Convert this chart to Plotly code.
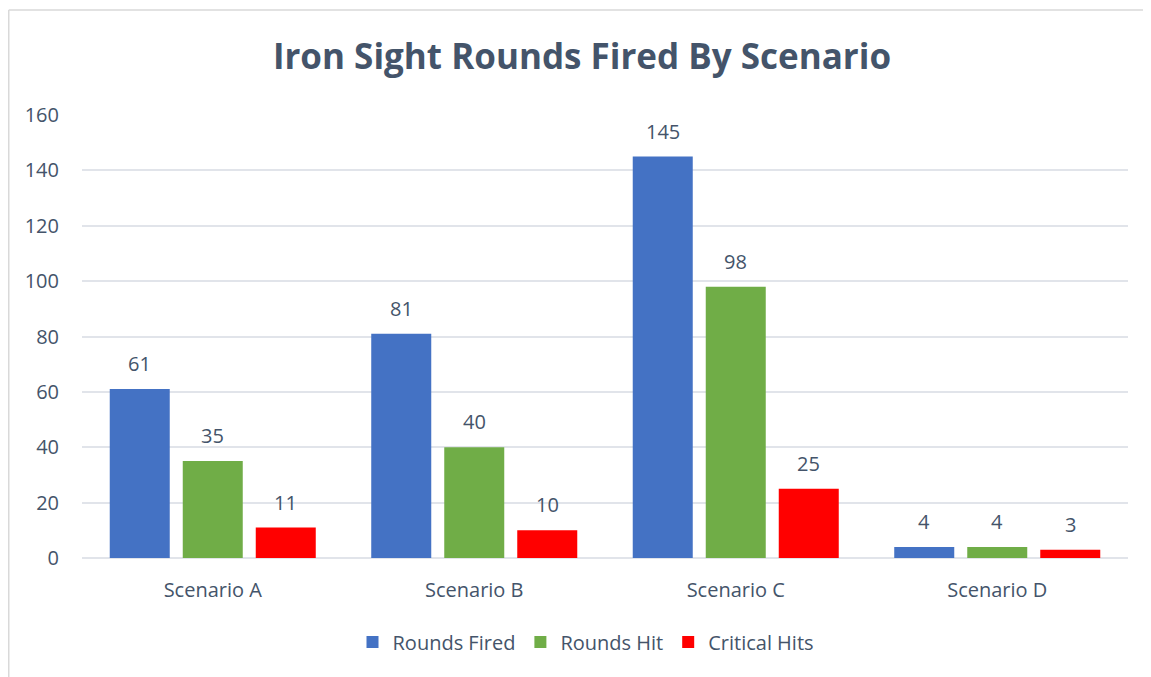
import plotly.graph_objects as go

categories = ["Scenario A", "Scenario B", "Scenario C", "Scenario D"]
rounds_fired = [61, 81, 145, 4]
rounds_hit = [35, 40, 98, 4]
critical_hits = [11, 10, 25, 3]
series_names = ["Rounds Fired", "Rounds Hit", "Critical Hits"]
y_ticks = [0, 20, 40, 60, 80, 100, 120, 140, 160]

colors = ["#4472C4", "#70AD47", "#FF0000"]
text_color = "#44546A"
font_family = "Open Sans, Noto Sans, sans-serif"

# The page body adds an 8px margin; size the figure to fit the window and
# lay out in page pixels minus this offset.
OFF = 8
W, H = 1151 - OFF, 677 - OFF
ml, mr, mt, mb = 82 - OFF, W - (1128 - OFF), 115 - OFF, H - (558 - OFF)
plot_w = W - ml - mr
plot_h = H - mt - mb
bargap = 0.1625
slot_px = plot_w / len(categories) * (1 - bargap) / 3

fig = go.Figure()
all_series = [rounds_fired, rounds_hit, critical_hits]
for name, vals, col in zip(series_names, all_series, colors):
    fig.add_trace(go.Bar(
        x=categories, y=vals, name=name,
        marker=dict(color=col, line=dict(width=0)),
        hoverinfo="x+y+name",
    ))

annotations = []
for i, vals in enumerate(all_series):
    for cat, v in zip(categories, vals):
        annotations.append(dict(
            x=cat, y=v, xref="x", yref="y", text=str(v), showarrow=False,
            xanchor="center", yanchor="bottom",
            xshift=(i - 1) * slot_px, yshift=10,
            font=dict(size=20, color=text_color, family=font_family),
        ))

px = lambda x: (x - OFF - ml) / plot_w
py = lambda y: 1 - (y - OFF - mt) / plot_h
border = dict(color="#D9D9D9", width=1.5)
shapes = [
    dict(type="line", xref="paper", yref="paper",
         x0=px(OFF + 0.75), x1=px(OFF + 0.75), y0=py(10), y1=py(700), line=border, layer="below"),
    dict(type="line", xref="paper", yref="paper",
         x0=px(OFF + 0.75), x1=px(1170), y0=py(10), y1=py(10), line=border, layer="below"),
]

fig.update_layout(
    width=W, height=H,
    margin=dict(l=ml, r=mr, t=mt, b=mb),
    paper_bgcolor="white", plot_bgcolor="white",
    barmode="group", bargap=bargap, bargroupgap=0.178,
    title=dict(text="<b>Iron Sight Rounds Fired By Scenario</b>",
               x=(582 - OFF) / W, xanchor="center", y=1 - (57 - OFF) / H, yanchor="middle",
               font=dict(size=35, color=text_color, family=font_family)),
    font=dict(family=font_family, color=text_color, size=20),
    xaxis=dict(showgrid=False, showline=False, ticks="", tickfont=dict(size=20, color=text_color),
               ticklabelstandoff=18),
    yaxis=dict(range=[0, 160], tickvals=y_ticks, showgrid=True, gridcolor="#E1E4EA", gridwidth=1.5,
               zeroline=True, zerolinecolor="#E1E4EA", zerolinewidth=2,
               showline=False, ticks="", tickfont=dict(size=20, color=text_color),
               ticklabelstandoff=22),
    legend=dict(orientation="h", x=px(586), xanchor="center",
                y=py(642), yanchor="middle",
                font=dict(size=20, color=text_color), itemwidth=30, traceorder="normal"),
    annotations=annotations,
    shapes=shapes,
)

fig.write_html("out.html")
